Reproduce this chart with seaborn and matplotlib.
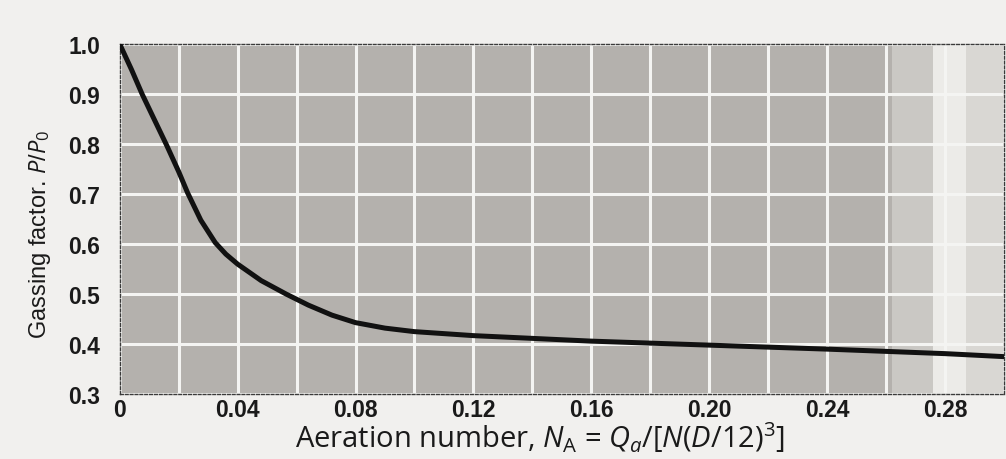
import matplotlib
matplotlib.use("Agg")
import matplotlib.pyplot as plt
import matplotlib.ticker as mticker
from matplotlib import font_manager
import pandas as pd
import seaborn as sns

# Data
aeration_number = [0.0, 0.004, 0.0076, 0.0115, 0.0159, 0.020, 0.023, 0.0275, 0.0324,
                   0.036, 0.040, 0.048, 0.0565, 0.064, 0.072, 0.080, 0.090, 0.100,
                   0.120, 0.160, 0.200, 0.240, 0.280, 0.300]
gassing_factor = [1.000, 0.949, 0.900, 0.852, 0.798, 0.745, 0.703, 0.648, 0.603,
                  0.580, 0.560, 0.527, 0.500, 0.478, 0.458, 0.443, 0.432, 0.425,
                  0.417, 0.406, 0.398, 0.390, 0.381, 0.375]
x_ticks = [0, 0.04, 0.08, 0.12, 0.16, 0.20, 0.24, 0.28]
x_tick_labels = ["0", "0.04", "0.08", "0.12", "0.16", "0.20", "0.24", "0.28"]
y_ticks = [0.3, 0.4, 0.5, 0.6, 0.7, 0.8, 0.9, 1.0]
y_tick_labels = ["0.3", "0.4", "0.5", "0.6", "0.7", "0.8", "0.9", "1.0"]

df = pd.DataFrame({"NA": aeration_number, "PP0": gassing_factor})

sns.set_theme(style="white")
names = {f.name for f in font_manager.fontManager.ttflist}
narrow = "Liberation Sans Narrow" if "Liberation Sans Narrow" in names else "Liberation Sans"
tick_size = 18 if narrow == "Liberation Sans Narrow" else 16.5
plt.rcParams["font.family"] = [narrow, "Liberation Sans", "DejaVu Sans"]
plt.rcParams["mathtext.fontset"] = "custom"
plt.rcParams["mathtext.rm"] = "Open Sans"
plt.rcParams["mathtext.it"] = "Open Sans:italic"
plt.rcParams["mathtext.bf"] = "Open Sans:bold"

fig = plt.figure(figsize=(10.06, 4.60), dpi=100, facecolor="#f1f0ee")
ax = fig.add_axes([0.119, 0.141, 0.879, 0.761])
ax.set_facecolor("#b4b1ad")

# lighter, faded band on the right side of the scanned grid
ax.axvspan(0.262, 0.276, color="#cac8c4", zorder=0.2, lw=0)
ax.axvspan(0.276, 0.287, color="#ecebe8", zorder=0.2, lw=0)
ax.axvspan(0.287, 0.300, color="#d9d7d3", zorder=0.2, lw=0)

sns.lineplot(data=df, x="NA", y="PP0", ax=ax, color="#111111", linewidth=3.6,
             zorder=3)

ax.set_xlim(0, 0.30)
ax.set_ylim(0.3, 1.0)
ax.set_xticks(x_ticks)
ax.set_xticklabels(x_tick_labels)
ax.set_yticks(y_ticks)
ax.set_yticklabels(y_tick_labels)
ax.xaxis.set_minor_locator(mticker.MultipleLocator(0.02))
ax.set_axisbelow(True)
ax.grid(True, which="both", color="#f4f4f2", linewidth=2.2)
ax.tick_params(axis="both", which="both", length=0)
ax.tick_params(axis="y", pad=14, labelsize=tick_size)
ax.tick_params(axis="x", pad=3, labelsize=tick_size)
for lab in ax.get_xticklabels() + ax.get_yticklabels():
    lab.set_fontweight("bold")
    lab.set_color("#1a1a1a")

for side in ["top", "bottom", "left", "right"]:
    ax.spines[side].set_linestyle((0, (2, 1.5)))
    ax.spines[side].set_color("#3a3a3a")
    ax.spines[side].set_linewidth(1.0)

ax.set_xlabel(r"Aeration number, $N_{\mathrm{A}}$ = $Q_a$/[$N$($D$/12)$^3$]",
              fontsize=21, color="#1a1a1a",
              fontfamily=["Open Sans", "DejaVu Sans"])
ax.xaxis.set_label_coords(0.475, -0.072)
ax.set_ylabel(r"Gassing factor. $P$/$P_0$", fontsize=17, color="#1a1a1a",
              fontfamily=[narrow, "Liberation Sans", "DejaVu Sans"])
ax.yaxis.set_label_coords(-0.076, 0.46)

fig.savefig("out.png", dpi=100, facecolor=fig.get_facecolor())
